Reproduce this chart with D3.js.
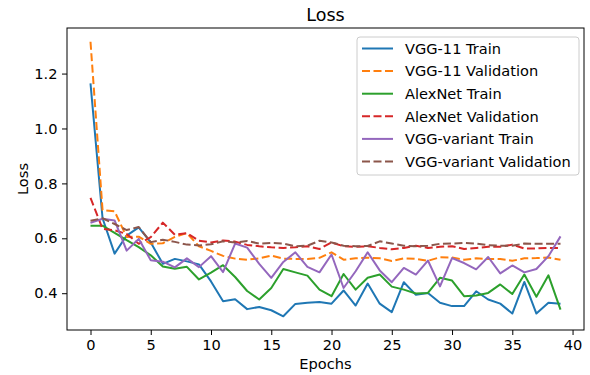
<!DOCTYPE html>
<html>
<head>
<meta charset="utf-8">
<script src="https://cdn.jsdelivr.net/npm/d3@7"></script>
<style>
  body { margin: 0; background: #fff; }
  svg { font-family: "DejaVu Sans", sans-serif; }
</style>
</head>
<body>
<svg id="chart" width="590" height="375"></svg>
<script>
// values
let epochs = d3.range(0, 40);
let vgg11Train = [1.164, 0.673, 0.544, 0.61, 0.64, 0.585, 0.507, 0.525, 0.516, 0.505, 0.443, 0.371, 0.378, 0.342, 0.35, 0.338, 0.316, 0.361, 0.365, 0.368, 0.362, 0.41, 0.355, 0.435, 0.362, 0.331, 0.44, 0.394, 0.401, 0.365, 0.353, 0.353, 0.407, 0.377, 0.362, 0.326, 0.441, 0.326, 0.365, 0.362];
let vgg11Val = [1.316, 0.703, 0.698, 0.605, 0.606, 0.58, 0.582, 0.605, 0.619, 0.571, 0.554, 0.536, 0.526, 0.522, 0.527, 0.537, 0.526, 0.525, 0.525, 0.529, 0.549, 0.522, 0.527, 0.529, 0.527, 0.517, 0.527, 0.525, 0.518, 0.531, 0.53, 0.522, 0.527, 0.525, 0.525, 0.518, 0.527, 0.528, 0.53, 0.522];
let alexTrain = [0.646, 0.646, 0.62, 0.593, 0.568, 0.538, 0.497, 0.489, 0.496, 0.45, 0.475, 0.502, 0.459, 0.408, 0.377, 0.419, 0.488, 0.476, 0.464, 0.413, 0.389, 0.47, 0.413, 0.456, 0.468, 0.424, 0.413, 0.399, 0.401, 0.456, 0.446, 0.389, 0.392, 0.401, 0.432, 0.397, 0.468, 0.387, 0.465, 0.34];
let alexVal = [0.747, 0.635, 0.629, 0.616, 0.58, 0.604, 0.657, 0.613, 0.619, 0.591, 0.585, 0.592, 0.588, 0.576, 0.571, 0.567, 0.565, 0.567, 0.571, 0.561, 0.585, 0.571, 0.569, 0.571, 0.565, 0.56, 0.565, 0.573, 0.565, 0.569, 0.571, 0.561, 0.565, 0.569, 0.569, 0.577, 0.563, 0.563, 0.565, 0.565];
let variantTrain = [0.656, 0.671, 0.665, 0.555, 0.598, 0.52, 0.515, 0.494, 0.527, 0.495, 0.535, 0.477, 0.581, 0.566, 0.507, 0.456, 0.514, 0.549, 0.496, 0.476, 0.541, 0.419, 0.48, 0.549, 0.483, 0.44, 0.492, 0.468, 0.519, 0.425, 0.528, 0.51, 0.487, 0.532, 0.472, 0.501, 0.476, 0.488, 0.535, 0.607];
let variantVal = [0.664, 0.673, 0.652, 0.63, 0.641, 0.586, 0.595, 0.587, 0.577, 0.574, 0.578, 0.589, 0.585, 0.59, 0.581, 0.583, 0.581, 0.571, 0.573, 0.591, 0.585, 0.573, 0.571, 0.572, 0.589, 0.581, 0.573, 0.571, 0.573, 0.58, 0.581, 0.583, 0.581, 0.575, 0.573, 0.573, 0.581, 0.58, 0.58, 0.58];

let seriesNames = ["VGG-11 Train", "VGG-11 Validation", "AlexNet Train", "AlexNet Validation", "VGG-variant Train", "VGG-variant Validation"];
let seriesValues = [vgg11Train, vgg11Val, alexTrain, alexVal, variantTrain, variantVal];
let seriesColors = ["#1f77b4", "#ff7f0e", "#2ca02c", "#d62728", "#9467bd", "#8c564b"];
let seriesDashed = [false, true, false, true, false, true];
let xTicks = [0, 5, 10, 15, 20, 25, 30, 35, 40];
let yTicks = [0.4, 0.6, 0.8, 1.0, 1.2];

// plot box like matplotlib's default axes
var margin = {top: 28, right: 6, bottom: 45, left: 67},
    width = 590 - margin.left - margin.right,
    height = 375 - margin.top - margin.bottom;

var fontSize = "14.6px";
var dash = "8,3.5";

var svg = d3.select("#chart");
var g = svg.append("g")
    .attr("transform", "translate(" + margin.left + "," + margin.top + ")");

// 5% padding on both scales
let xMin = d3.min(epochs), xMax = d3.max(epochs);
let xPad = (xMax - xMin) * 0.05;
let allValues = seriesValues.flat();
let yMin = d3.min(allValues), yMax = d3.max(allValues);
let yPad = (yMax - yMin) * 0.05;

var x = d3.scaleLinear()
    .domain([xMin - xPad, xMax + xPad])
    .range([0, width]);
var y = d3.scaleLinear()
    .domain([yMin - yPad, yMax + yPad])
    .range([height, 0]);

var line = d3.line()
    .x(function(d) { return x(d[0]); })
    .y(function(d) { return y(d[1]); });

// the lines
seriesValues.forEach(function(values, i) {
  g.append("path")
    .datum(epochs.map(function(e, j) { return [e, values[j]]; }))
    .attr("fill", "none")
    .attr("stroke", seriesColors[i])
    .attr("stroke-width", 2)
    .attr("stroke-linejoin", "round")
    .attr("stroke-dasharray", seriesDashed[i] ? dash : null)
    .attr("d", line);
});

// axes
var xAxis = g.append("g")
    .attr("transform", "translate(0," + height + ")")
    .call(d3.axisBottom(x).tickValues(xTicks).tickSize(5).tickPadding(4.5).tickFormat(d3.format("d")));
var yAxis = g.append("g")
    .call(d3.axisLeft(y).tickValues(yTicks).tickSize(5).tickPadding(4.5).tickFormat(d3.format(".1f")));

[xAxis, yAxis].forEach(function(ax) {
  ax.select(".domain").remove();
  ax.selectAll("line").attr("stroke", "#000").attr("stroke-width", 1);
  ax.selectAll("text")
    .attr("fill", "#000")
    .style("font-size", fontSize)
    .style("font-family", "DejaVu Sans");
});

// frame
g.append("rect")
    .attr("width", width)
    .attr("height", height)
    .attr("fill", "none")
    .attr("stroke", "#000")
    .attr("stroke-width", 1);

// title and axis labels
svg.append("text")
    .attr("x", margin.left + width / 2)
    .attr("y", 21)
    .attr("text-anchor", "middle")
    .style("font-size", "17.5px")
    .text("Loss");
svg.append("text")
    .attr("x", margin.left + width / 2)
    .attr("y", 369)
    .attr("text-anchor", "middle")
    .style("font-size", fontSize)
    .text("Epochs");
svg.append("text")
    .attr("transform", "translate(28," + (margin.top + height / 2) + ") rotate(-90)")
    .attr("text-anchor", "middle")
    .style("font-size", fontSize)
    .text("Loss");

// legend
var legend = svg.append("g").attr("transform", "translate(357,37)");
legend.append("rect")
    .attr("width", 222)
    .attr("height", 138)
    .attr("rx", 3)
    .attr("fill", "#fff")
    .attr("fill-opacity", 0.8)
    .attr("stroke", "#ccc")
    .attr("stroke-width", 1);

seriesNames.forEach(function(name, i) {
  let ly = 11.5 + i * 22.6;
  legend.append("line")
    .attr("x1", 5).attr("x2", 36)
    .attr("y1", ly).attr("y2", ly)
    .attr("stroke", seriesColors[i])
    .attr("stroke-width", 2)
    .attr("stroke-dasharray", seriesDashed[i] ? dash : null);
  legend.append("text")
    .attr("x", 48)
    .attr("y", ly + 5.2)
    .style("font-size", fontSize)
    .text(name);
});
</script>
</body>
</html>
